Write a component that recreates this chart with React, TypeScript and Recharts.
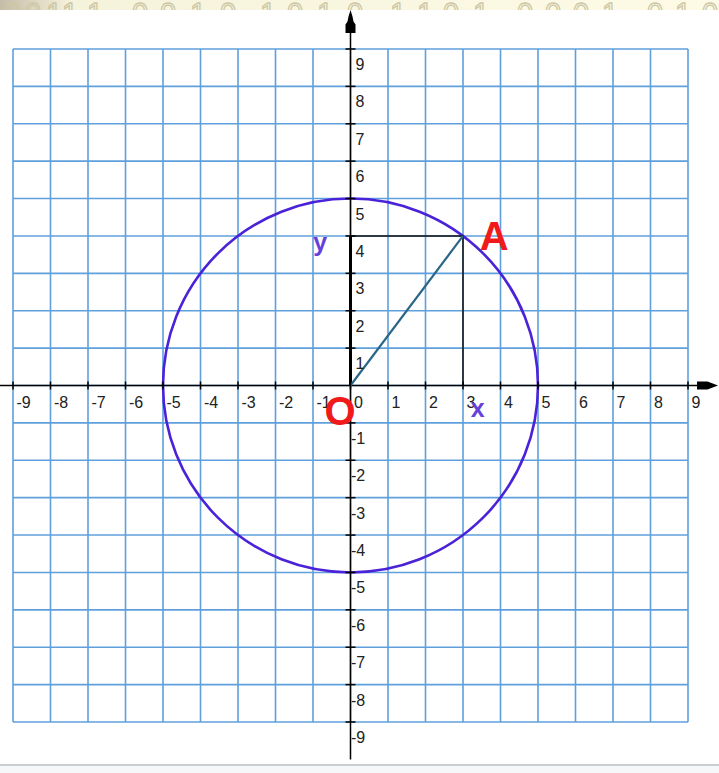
import React from 'react';
import {
  ComposedChart,
  XAxis,
  YAxis,
  CartesianGrid,
  Line,
  Scatter,
  ReferenceLine,
  ReferenceDot,
  ReferenceArea,
} from 'recharts';

// ---- data ----
const gridTicks = [-9, -8, -7, -6, -5, -4, -3, -2, -1, 0, 1, 2, 3, 4, 5, 6, 7, 8, 9];
const xTickLabels = [-9, -8, -7, -6, -5, -4, -3, -2, -1, 0, 1, 2, 3, 4, 5, 6, 7, 8, 9];
const yTickLabels = [-9, -8, -7, -6, -5, -4, -3, -2, -1, 1, 2, 3, 4, 5, 6, 7, 8, 9];

const circleCenter = { x: 0, y: 0 };
const circleRadius = 5;
const pointA = { x: 3, y: 4 };
const rectPath = [{ x: 0, y: 4 }, { x: 3, y: 4 }, { x: 3, y: 0 }];
const legY = [{ x: 0, y: 0 }, { x: 0, y: 4 }];
const radiusOA = [{ x: 0, y: 0 }, pointA];

const xAxisExtent = [-9.35, 9.6];
const yAxisExtent = [-10, 9.6];

const annotations = [
  { x: 3.83, y: 3.62, text: 'A', kind: 'red', size: 40 },
  { x: -0.28, y: -1.06, text: 'O', kind: 'red', size: 40 },
  { x: -0.81, y: 3.6, text: 'y', kind: 'purple', size: 25 },
  { x: 3.39, y: -0.84, text: 'x', kind: 'purple', size: 25 },
];

const bandDigits = '001110010101011010001010';
const bandX = [5, 25, 46, 62, 87, 132, 160, 190, 220, 260, 287, 317, 347, 390, 417, 443, 473, 517, 545, 573, 602, 647, 675, 702];

const xTickData = xTickLabels.map((v) => ({ x: v, y: 0, v }));
const yTickData = yTickLabels.map((v) => ({ x: 0, y: v, v }));

const FONT = '"Liberation Sans", Arial, sans-serif';

const XTick = (props: any) => {
  const { cx, cy, payload } = props;
  return (
    <g>
      <line x1={cx} y1={cy - 4} x2={cx} y2={cy + 4} stroke="#000" strokeWidth={1.5} />
      <text x={cx + 3.5} y={cy + 22} fontSize={16} fontFamily={FONT} fill="#222">
        {payload.v}
      </text>
    </g>
  );
};

const YTick = (props: any) => {
  const { cx, cy, payload } = props;
  const neg = payload.v < 0;
  return (
    <g>
      <line x1={cx - 5} y1={cy} x2={cx + 5} y2={cy} stroke="#000" strokeWidth={1.5} />
      <text x={neg ? cx + 0.5 : cx + 5} y={cy + 21} fontSize={16} fontFamily={FONT} fill="#222">
        {payload.v}
      </text>
    </g>
  );
};

const Annotation = (props: any) => {
  const { cx, cy, payload } = props;
  const red = payload.kind === 'red';
  return (
    <text
      x={cx}
      y={cy}
      textAnchor="middle"
      fontSize={payload.size}
      fontWeight="bold"
      fontFamily={FONT}
      fill={red ? '#f01a1a' : '#6640dc'}
    >
      {payload.text}
    </text>
  );
};

const CircleShape = (props: any) => {
  const { x, y, width, height } = props;
  return (
    <ellipse
      cx={x + width / 2}
      cy={y + height / 2}
      rx={Math.abs(width) / 2}
      ry={Math.abs(height) / 2}
      fill="none"
      stroke="#4a22d8"
      strokeWidth={2.6}
    />
  );
};

const UpArrow = (props: any) => {
  const { cx, cy } = props;
  const pts = [
    [cx, cy - 16.5],
    [cx + 2, cy - 10],
    [cx + 3, cy - 5],
    [cx + 5, cy - 2],
    [cx + 5, cy + 6.5],
    [cx - 5, cy + 6.5],
    [cx - 5, cy - 2],
    [cx - 3, cy - 5],
    [cx - 2, cy - 10],
  ]
    .map((p) => p.join(','))
    .join(' ');
  return <polygon points={pts} fill="#000" />;
};

const RightArrow = (props: any) => {
  const { cx, cy } = props;
  const pts = [
    [cx + 7.5, cy],
    [cx - 3, cy - 4],
    [cx - 13.5, cy - 4],
    [cx - 13.5, cy + 4],
    [cx - 3, cy + 4],
  ]
    .map((p) => p.join(','))
    .join(' ');
  return <polygon points={pts} fill="#000" />;
};

export default function App() {
  return (
    <div
      style={{
        position: 'absolute',
        left: 0,
        top: 0,
        width: 719,
        height: 773,
        background: '#ffffff',
        overflow: 'hidden',
      }}
    >
      {/* decorative top band */}
      <svg width={719} height={10} style={{ position: 'absolute', left: 0, top: 0 }}>
        <defs>
          <linearGradient id="band" x1="0" y1="0" x2="1" y2="0">
            <stop offset="0" stopColor="#c6bca9" />
            <stop offset="0.1" stopColor="#f6f3dc" />
            <stop offset="1" stopColor="#fdfbe6" />
          </linearGradient>
        </defs>
        <rect x={0} y={0} width={719} height={10} fill="url(#band)" />
        <text
          x={bandX.join(' ')}
          y={23}
          fontSize={29}
          fontFamily={FONT}
          fill="none"
          stroke="#cdc7a6"
          strokeWidth={1.3}
        >
          {bandDigits}
        </text>
      </svg>

      <div style={{ position: 'absolute', left: 0, top: 0 }}>
        <ComposedChart
          width={719}
          height={773}
          margin={{ top: 49, right: 31, bottom: 51, left: 13 }}
        >
          <CartesianGrid stroke="#5e9fdc" strokeWidth={1.6} />
          <XAxis type="number" dataKey="x" domain={[-9, 9]} ticks={gridTicks} hide />
          <YAxis type="number" dataKey="y" domain={[-9, 9]} ticks={gridTicks} hide />
          <ReferenceArea
            x1={circleCenter.x - circleRadius}
            x2={circleCenter.x + circleRadius}
            y1={circleCenter.y - circleRadius}
            y2={circleCenter.y + circleRadius}
            ifOverflow="visible"
            shape={CircleShape}
          />
          <Line
            data={rectPath}
            dataKey="y"
            type="linear"
            stroke="#111"
            strokeWidth={1.5}
            dot={false}
            isAnimationActive={false}
          />
          <ReferenceLine
            segment={[{ x: 0, y: yAxisExtent[0] }, { x: 0, y: yAxisExtent[1] }]}
            stroke="#000"
            strokeWidth={1.5}
            ifOverflow="visible"
          />
          <ReferenceLine
            segment={[{ x: xAxisExtent[0], y: 0 }, { x: xAxisExtent[1], y: 0 }]}
            stroke="#000"
            strokeWidth={1.5}
            ifOverflow="visible"
          />
          <Line
            data={legY}
            dataKey="y"
            type="linear"
            stroke="#000"
            strokeWidth={3}
            dot={false}
            isAnimationActive={false}
          />
          <Line
            data={radiusOA}
            dataKey="y"
            type="linear"
            stroke="#2a6688"
            strokeWidth={2.2}
            dot={false}
            isAnimationActive={false}
          />
          <ReferenceDot x={0} y={yAxisExtent[1]} ifOverflow="visible" shape={UpArrow} />
          <ReferenceDot x={xAxisExtent[1]} y={0} ifOverflow="visible" shape={RightArrow} />
          <Scatter data={xTickData} shape={XTick} isAnimationActive={false} />
          <Scatter data={yTickData} shape={YTick} isAnimationActive={false} />
          <Scatter data={annotations} shape={Annotation} isAnimationActive={false} />
        </ComposedChart>
      </div>

      {/* bottom frame line */}
      <div
        style={{
          position: 'absolute',
          left: 0,
          top: 764,
          width: 719,
          height: 2,
          background: '#c9cdd1',
        }}
      />
      <div
        style={{
          position: 'absolute',
          left: 0,
          top: 766,
          width: 719,
          height: 7,
          background: '#f5f7f8',
        }}
      />
    </div>
  );
}
